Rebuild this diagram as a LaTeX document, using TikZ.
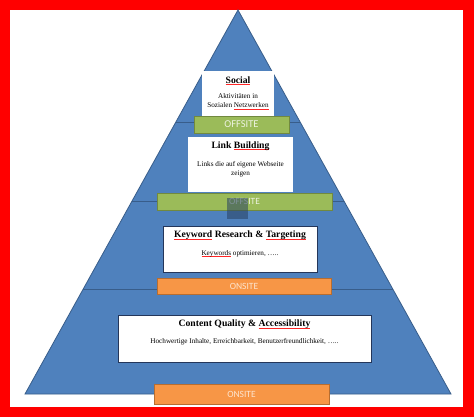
\documentclass[tikz,border=0pt]{standalone}
\usepackage{fontspec}
\setmainfont{Liberation Serif}
\newfontfamily\barfont{Carlito}
\usetikzlibrary{calc,positioning}
\definecolor{pyrfill}{RGB}{79,129,189}
\definecolor{pyrline}{RGB}{56,93,138}
\definecolor{boxline}{RGB}{36,54,90}
\definecolor{offfill}{RGB}{155,187,89}
\definecolor{offline}{RGB}{113,137,63}
\definecolor{offtext}{RGB}{236,242,224}
\definecolor{onfill}{RGB}{247,150,70}
\definecolor{online}{RGB}{182,109,49}
\definecolor{ontext}{RGB}{253,228,206}
\newcommand\spellerr[1]{\leavevmode\setbox0\hbox{#1}\rlap{\textcolor{red!85}{\rule[-1.6pt]{\wd0}{0.5pt}}}\box0\relax}
\begin{document}
\begin{tikzpicture}[x=1pt,y=-1pt,
    infobox/.style={draw=none,fill=white,inner sep=0pt},
    framedbox/.style={infobox,draw=boxline,line width=0.8pt},
    boxtitle/.style={font=\fontsize{9.7}{11}\selectfont\bfseries,inner sep=0pt},
    boxtext/.style={font=\fontsize{7.2}{9}\selectfont,align=center,inner sep=0pt},
    offbar/.style={fill=offfill,draw=offline,line width=0.6pt,text=offtext,
        font=\barfont\fontsize{9.5}{11}\selectfont,inner sep=0pt},
    onbar/.style={fill=onfill,draw=online,line width=0.6pt,text=ontext,
        font=\barfont\fontsize{9.5}{11}\selectfont,inner sep=0pt},
    level/.style={draw=pyrline,line width=0.8pt}]
    \useasboundingbox (0,0) rectangle (474,417);
    % Rahmen
    \fill[red] (0,0) rectangle (474,417);
    \fill[white] (10,10) rectangle (463,407);

    % Pyramide
    \coordinate (apex) at (238,10);
    \coordinate (bl) at (25,394);
    \coordinate (br) at (451,394);
    \filldraw[fill=pyrfill,draw=pyrline,line width=0.8pt] (apex) -- (bl) -- (br) -- cycle;

    % Ebenen
    \draw[level] ($(apex)!0.2917!(bl)$) -- ($(apex)!0.2917!(br)$);
    \draw[level] ($(apex)!0.4974!(bl)$) -- ($(apex)!0.4974!(br)$);
    \draw[level] ($(apex)!0.7266!(bl)$) -- ($(apex)!0.7266!(br)$);

    % Social
    \node[infobox,minimum width=72pt,minimum height=45pt] (social) at (238,93.5) {};
    \node[boxtitle] (socialT) at ([yshift=-10pt]social.north) {\spellerr{Social}};
    \node[boxtext] (socialS) at ([yshift=-31pt]social.north) {Aktivitäten in\\Sozialen \spellerr{Netzwerken}};
    \node[offbar,minimum width=95pt,minimum height=17pt,font=\barfont\fontsize{10.5}{12}\selectfont] (off1) at (241.5,124.5) {OFFSITE};

    % Link Building
    \node[infobox,minimum width=105pt,minimum height=55pt] (link) at (240.5,164.5) {};
    \node[boxtitle] (linkT) at ([yshift=-9pt]link.north) {Link \spellerr{Building}};
    \node[boxtext] (linkS) at ([yshift=-32pt]link.north) {Links die auf eigene Webseite\\zeigen};
    \node[offbar,minimum width=175pt,minimum height=17pt] (off2) at (244.5,201.5) {OFFSITE};
    \fill[pyrline!70!black,opacity=0.55] (227,198) rectangle (248,219);

    % Keyword Research
    \node[framedbox,minimum width=154pt,minimum height=46pt] (keyword) at (240,249) {};
    \node[boxtitle] (keywordT) at ([yshift=-10pt]keyword.north) {\spellerr{Keyword} Research \& \spellerr{Targeting}};
    \node[boxtext] (keywordS) at ([yshift=-28pt]keyword.north) {\spellerr{Keywords} optimieren, …..};
    \node[onbar,minimum width=174pt,minimum height=16pt] (on1) at (244,286) {ONSITE};

    % Content Quality
    \node[framedbox,minimum width=253pt,minimum height=47pt] (content) at (244.5,338.5) {};
    \node[boxtitle] (contentT) at ([yshift=-10pt]content.north) {Content Quality \& \spellerr{Accessibility}};
    \node[boxtext] (contentS) at ([yshift=-27pt]content.north) {Hochwertige Inhalte, Erreichbarkeit, Benutzerfreundlichkeit, …..};
    \node[onbar,minimum width=175pt,minimum height=20pt] (on2) at (241.5,394) {ONSITE};
\end{tikzpicture}
\end{document}
